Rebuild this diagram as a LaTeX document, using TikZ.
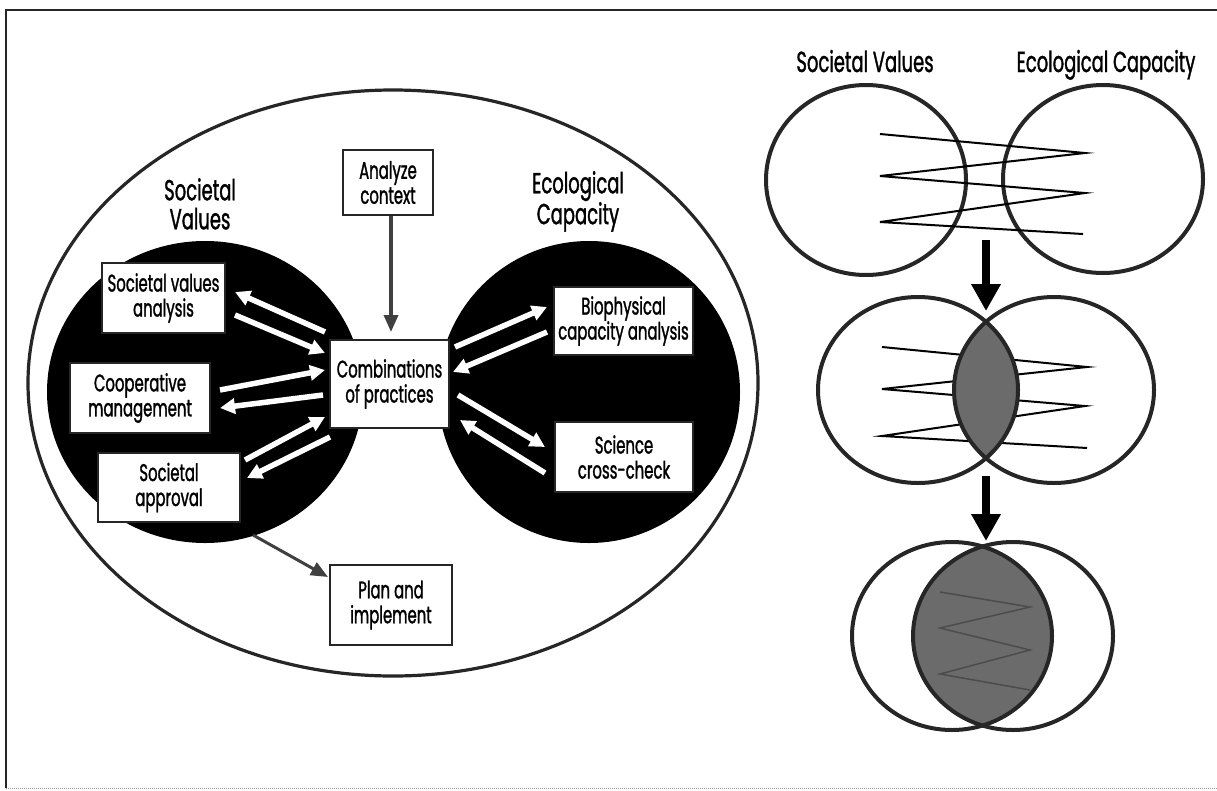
\documentclass[tikz,border=0pt]{standalone}
\usepackage{fontspec}
\setmainfont{Poppins}[FakeStretch=0.62, FakeBold=1.2]
\usetikzlibrary{arrows.meta}
\newcommand\boxfont{\fontsize{24}{25}\selectfont}
\newcommand\lblfont{\fontsize{29}{29}\selectfont}
\begin{document}
\begin{tikzpicture}[x=1pt,y=-1pt,
  box/.style={draw=black!85, line width=1.8pt, fill=white, inner sep=0pt, align=center, font=\boxfont},
  lbl/.style={align=center, font=\lblfont, inner sep=0pt},
  warrow/.style={draw=white, line width=5.5pt, -{Triangle[length=15pt,width=15pt]}},
  garrow/.style={draw=black!75, line width=3.5pt, -{Triangle[length=17pt,width=14pt]}},
  bigarrow/.style={draw=black, line width=8pt, -{Triangle[length=27pt,width=28pt]}},
  ring/.style={draw=black!85, line width=4pt},
  zig/.style={draw=black, line width=2pt, line join=miter},
  lensfill/.style={fill=black!58}]
\useasboundingbox (0,0) rectangle (1217,790);
% frame
\draw[line width=1.8pt, black!85] (1217,10) -- (6,10) -- (6,788);
\draw[line width=1pt, black!40, densely dotted] (6,788) -- (1217,788);

% ---------- left diagram ----------
\draw[ring, line width=3.2pt] (393,383) ellipse [x radius=365, y radius=293];
\fill[black] (205,392) ellipse [x radius=158, y radius=151];
\fill[black] (589,392) ellipse [x radius=151, y radius=151];

\node[lbl, anchor=north] (svlbl) at (200,178) {Societal\\Values};
\node[lbl, anchor=north] (eclbl) at (578,171) {Ecological\\Capacity};

\node[box, minimum width=90pt, minimum height=65pt] (ctx) at (388,182.5) {Analyze\\context};
\node[box, minimum width=123pt, minimum height=70pt] (sva) at (163.5,298) {Societal values\\analysis};
\node[box, minimum width=140pt, minimum height=70pt] (coop) at (140,398) {Cooperative\\management};
\node[box, minimum width=142pt, minimum height=69pt] (appr) at (169,487.5) {Societal\\approval};
\node[box, minimum width=119pt, minimum height=88pt] (comb) at (389.5,384) {Combinations\\of practices};
\node[box, minimum width=139pt, minimum height=68pt] (bio) at (623.5,321) {Biophysical\\capacity analysis};
\node[box, minimum width=138pt, minimum height=70pt] (sci) at (624,457) {Science\\cross-check};
\node[box, minimum width=122pt, minimum height=80pt] (plan) at (391,605) {Plan and\\implement};

% arrow end points
\coordinate (a1s) at (325,332); \coordinate (a1e) at (235,292);
\coordinate (b1s) at (235,315); \coordinate (b1e) at (325,353);
\coordinate (c1s) at (220,390); \coordinate (c1e) at (325,370);
\coordinate (d1s) at (323,395); \coordinate (d1e) at (220,408);
\coordinate (e1s) at (245,460); \coordinate (e1e) at (325,417);
\coordinate (f1s) at (330,437); \coordinate (f1e) at (247,478);
\coordinate (g1s) at (455,347); \coordinate (g1e) at (547,307);
\coordinate (h1s) at (547,332); \coordinate (h1e) at (453,372);
\coordinate (i1s) at (458,395); \coordinate (i1e) at (545,447);
\coordinate (j1s) at (545,473); \coordinate (j1e) at (460,420);
\foreach \p in {a,b,c,d,e,f,g,h,i,j} \draw[warrow] (\p1s) -- (\p1e);

\coordinate (ctxend) at (391,332);
\draw[garrow] (ctx.south -| ctxend) -- (ctxend);
\coordinate (apprtail) at (253,535);
\coordinate (plantip) at (328,577);
\draw[garrow, line width=3pt] (apprtail) -- (plantip);

% ---------- right diagram ----------
\node[lbl, anchor=base] (svr) at (865,72) {Societal Values};
\node[lbl, anchor=base] (ecr) at (1106,72) {Ecological Capacity};

% stage 1
\draw[ring] (866,180) ellipse [x radius=100, y radius=95];
\draw[ring] (1103,179) ellipse [x radius=100, y radius=94];
\draw[zig] (880,134) -- (1085,153) -- (880,176) -- (1085,193) -- (880,222) -- (1083,234);
\coordinate (ar1s) at (986,240); \coordinate (ar1e) at (986,311);
\draw[bigarrow] (ar1s) -- (ar1e);

% stage 2
\draw[zig] (882,347) -- (1087,367) -- (882,389) -- (1085,406) -- (882,436) -- (1087,448);
\begin{scope}
  \clip (918,390) ellipse [x radius=100, y radius=93];
  \fill[lensfill] (1054,390) ellipse [x radius=100, y radius=93];
\end{scope}
\draw[ring] (918,390) ellipse [x radius=100, y radius=93];
\draw[ring] (1054,390) ellipse [x radius=100, y radius=93];
\coordinate (ar2s) at (986,476); \coordinate (ar2e) at (986,541);
\draw[bigarrow] (ar2s) -- (ar2e);

% stage 3
\begin{scope}
  \clip (952,636) ellipse [x radius=100, y radius=94];
  \fill[lensfill] (1013,636) ellipse [x radius=100, y radius=94];
  \draw[black!70, line width=1.5pt] (940,592) -- (1030,607) -- (940,628) -- (1030,650) -- (940,674) -- (1030,690);
\end{scope}
\draw[ring] (952,636) ellipse [x radius=100, y radius=94];
\draw[ring] (1013,636) ellipse [x radius=100, y radius=94];
\end{tikzpicture}
\end{document}
